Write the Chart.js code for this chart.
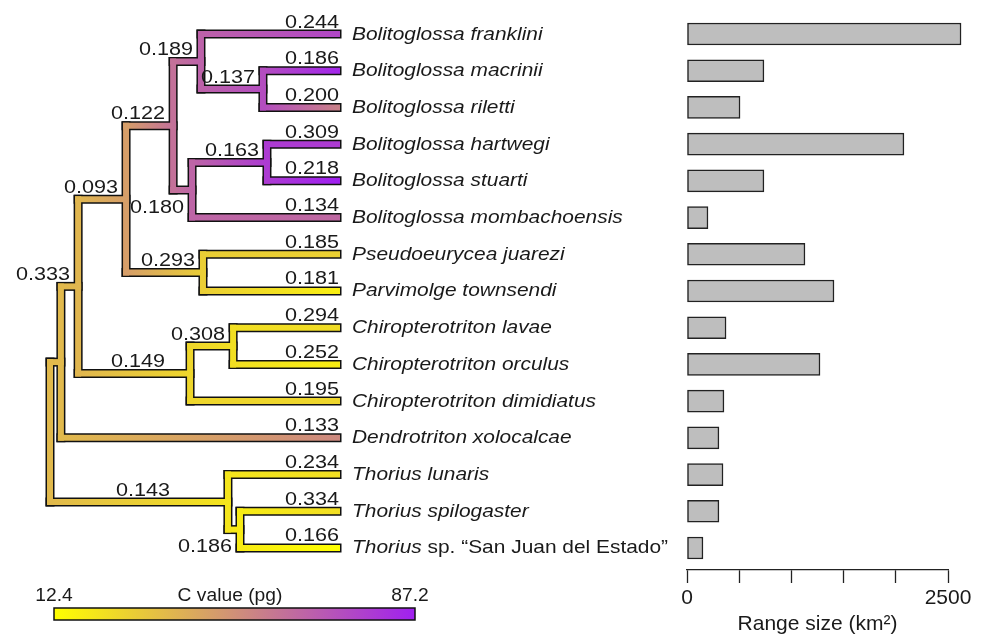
<!DOCTYPE html>
<html>
<head>
<meta charset="utf-8">
<script src="https://cdn.jsdelivr.net/npm/chart.js@4.4.1/dist/chart.umd.min.js"></script>
<style>
  html, body { margin: 0; padding: 0; background: #fff; }
  #wrap { position: relative; width: 986px; height: 637px; overflow: hidden; }
  #tree { position: absolute; left: 0; top: 0; }
  #bars { position: absolute; left: 600px; top: 0; }
</style>
</head>
<body>
<div id="wrap">
  <canvas id="tree" width="680" height="637"></canvas>
  <canvas id="bars" width="386" height="637"></canvas>
</div>
<script>
// tips, top to bottom ('|' splits italic genus part from roman suffix)
const species = [
  'Bolitoglossa franklini', 'Bolitoglossa macrinii', 'Bolitoglossa riletti',
  'Bolitoglossa hartwegi', 'Bolitoglossa stuarti', 'Bolitoglossa mombachoensis',
  'Pseudoeurycea juarezi', 'Parvimolge townsendi', 'Chiropterotriton lavae',
  'Chiropterotriton orculus', 'Chiropterotriton dimidiatus', 'Dendrotriton xolocalcae',
  'Thorius lunaris', 'Thorius spilogaster', 'Thorius| sp. “San Juan del Estado”'
];
const tipRates = ['0.244', '0.186', '0.200', '0.309', '0.218', '0.134', '0.185', '0.181',
  '0.294', '0.252', '0.195', '0.133', '0.234', '0.334', '0.166'];
const tipCValues = [74, 85, 55, 78, 87.2, 63, 28, 18, 24, 18, 26, 52, 23, 23, 12.4];
const rangeSizes = [2625, 737, 508, 2078, 737, 201, 1130, 1408, 374, 1274, 354, 306, 345, 306, 153];

// internal nodes
const nodeIds = ['R', 'I', 'F', 'D', 'C', 'A', 'A2', 'B', 'B2', 'E', 'G', 'H', 'J', 'K'];
const nodeChildren = [['I', 'J'], ['F', 11], ['D', 'G'], ['C', 'E'], ['A', 'B'], [0, 'A2'], [1, 2],
  ['B2', 5], [3, 4], [6, 7], ['H', 10], [8, 9], [12, 'K'], [13, 14]];
const nodeAges = [0, 0.038, 0.098, 0.265, 0.429, 0.526, 0.742, 0.495, 0.756, 0.533, 0.488, 0.638, 0.620, 0.662];
const nodeCValues = [36, 36, 37, 45, 60, 65, 72, 64, 78, 29, 26, 23, 21, 19];
const nodeRates = ['', '', '0.333', '0.093', '0.122', '0.189', '0.137', '0.180', '0.163',
  '0.293', '0.149', '0.308', '0.143', '0.186'];
const ratesBelow = ['B', 'K'];

const cRange = [12.4, 87.2];
const cLabel = 'C value (pg)';
const rangeTicks = [0, 2500];
const rangeTitle = 'Range size (km²)';

const TXT = '#1a1a1a';
const YELLOW = [255, 255, 0];
const PURPLE = [160, 32, 240];

function cColor(c) {
  const t = Math.max(0, Math.min(1, (c - cRange[0]) / (cRange[1] - cRange[0])));
  const rgb = YELLOW.map((v, i) => Math.round(v + (PURPLE[i] - v) * t));
  return 'rgb(' + rgb.join(',') + ')';
}

// place nodes: tips at age 1, internal y = middle of first/last child
const info = {};
species.forEach((s, i) => { info[i] = { x: 1, y: i, c: tipCValues[i], rate: tipRates[i], tip: true }; });
function place(id) {
  if (info[id]) return info[id];
  const k = nodeIds.indexOf(id);
  const kids = nodeChildren[k].map(place);
  info[id] = {
    x: nodeAges[k], y: (kids[0].y + kids[kids.length - 1].y) / 2,
    c: nodeCValues[k], rate: nodeRates[k], below: ratesBelow.includes(id)
  };
  return info[id];
}
place('R');

const segments = [];
nodeIds.forEach((id, k) => {
  const p = info[id];
  const kids = nodeChildren[k].map(c => info[c]);
  segments.push({ pts: [{ x: p.x, y: kids[0].y }, { x: p.x, y: kids[kids.length - 1].y }], c0: p.c, c1: p.c });
  kids.forEach(ch => {
    segments.push({ pts: [{ x: p.x, y: ch.y }, { x: ch.x, y: ch.y }], c0: p.c, c1: ch.c, node: ch });
  });
});

function branchColor(chart, s) {
  if (s.c0 === s.c1 || !chart.chartArea) return cColor(s.c1);
  const xs = chart.scales.x;
  const x0 = xs.getPixelForValue(s.pts[0].x), x1 = xs.getPixelForValue(s.pts[1].x);
  const g = chart.ctx.createLinearGradient(x0, 0, x1, 0);
  g.addColorStop(0, cColor(s.c0));
  g.addColorStop(1, cColor(s.c1));
  return g;
}

const lineBase = { pointRadius: 0, pointHoverRadius: 0, fill: false, tension: 0, clip: false,
  borderCapStyle: 'square', borderJoinStyle: 'miter' };
const outlineSets = segments.map(s => Object.assign({}, lineBase, {
  data: s.pts, borderColor: '#111', borderWidth: 9, order: 2
}));
const colorSets = segments.map(s => Object.assign({}, lineBase, {
  data: s.pts, borderWidth: 6, order: 1, borderColor: (ctx) => branchColor(ctx.chart, s)
}));

function stretchText(ctx, str, x, y, align, font, sx) {
  ctx.save();
  ctx.font = font;
  ctx.fillStyle = TXT;
  ctx.textBaseline = 'alphabetic';
  ctx.textAlign = 'left';
  const w = ctx.measureText(str).width * sx;
  const left = align === 'right' ? x - w : align === 'center' ? x - w / 2 : x;
  ctx.translate(left, y);
  ctx.scale(sx, 1);
  ctx.fillText(str, 0, 0);
  ctx.restore();
  return w;
}

const NUM_FONT = '18px "Liberation Sans", Arial, sans-serif';
const treeText = {
  id: 'treeText',
  afterDatasetsDraw(chart) {
    const ctx = chart.ctx, xs = chart.scales.x, ys = chart.scales.y;
    // branch values
    segments.filter(s => s.node).forEach(s => {
      const n = s.node;
      const px0 = xs.getPixelForValue(s.pts[0].x), px1 = xs.getPixelForValue(n.x);
      const py = ys.getPixelForValue(n.y);
      const base = n.below ? py + 22.5 : py - 6.5;
      if (n.tip) {
        stretchText(ctx, n.rate, px1 + 2, base, 'right', NUM_FONT, 1.2);
      } else {
        ctx.font = NUM_FONT;
        const w = ctx.measureText(n.rate).width * 1.2;
        const cx = Math.min((px0 + px1) / 2 + 4, px1 - 8 - w / 2);
        stretchText(ctx, n.rate, cx, base, 'center', NUM_FONT, 1.2);
      }
    });
    // species names
    species.forEach((name, i) => {
      const px = xs.getPixelForValue(1) + 15, py = ys.getPixelForValue(i) + 5.5;
      const parts = name.split('|');
      const w = stretchText(ctx, parts[0], px, py, 'left', 'italic 18.5px "Liberation Sans", Arial, sans-serif', 1.13);
      if (parts[1]) stretchText(ctx, parts[1], px + w, py, 'left', '18.5px "Liberation Sans", Arial, sans-serif', 1.13);
    });
    // colour bar
    const bx0 = 54, bx1 = 415, by0 = 608, by1 = 620;
    const g = ctx.createLinearGradient(bx0, 0, bx1, 0);
    for (let k = 0; k <= 10; k++) g.addColorStop(k / 10, cColor(cRange[0] + (cRange[1] - cRange[0]) * k / 10));
    ctx.save();
    ctx.fillStyle = g;
    ctx.fillRect(bx0, by0, bx1 - bx0, by1 - by0);
    ctx.strokeStyle = '#111';
    ctx.lineWidth = 1.5;
    ctx.strokeRect(bx0, by0, bx1 - bx0, by1 - by0);
    ctx.restore();
    const cbFont = '17.5px "Liberation Sans", Arial, sans-serif';
    stretchText(ctx, String(cRange[0]), bx0, 601, 'center', cbFont, 1.1);
    stretchText(ctx, cLabel, 230, 601, 'center', cbFont, 1.1);
    stretchText(ctx, String(cRange[1]), 410, 601, 'center', cbFont, 1.1);
  }
};

// pixel layout of the tree panel: age 0 -> 50px, age 1 -> 337px; tip 0 -> 34px, 36.71px per tip
const X_PER = 287, X_MIN = -50 / X_PER, X_MAX = X_MIN + 680 / X_PER;
const Y_PER = 36.71, Y_MIN = -34 / Y_PER, Y_MAX = Y_MIN + 637 / Y_PER;

new Chart(document.getElementById('tree'), {
  type: 'line',
  data: { datasets: [...colorSets, ...outlineSets] },
  options: {
    responsive: false,
    animation: false,
    events: [],
    layout: { padding: 0 },
    plugins: { legend: { display: false }, tooltip: { enabled: false } },
    scales: {
      x: { type: 'linear', display: false, min: X_MIN, max: X_MAX },
      y: { type: 'linear', display: false, reverse: true, min: Y_MIN, max: Y_MAX }
    }
  },
  plugins: [treeText]
});

// range size bars
new Chart(document.getElementById('bars'), {
  type: 'bar',
  data: {
    datasets: [{
      data: rangeSizes.map((v, i) => ({ x: v, y: i })),
      backgroundColor: '#bebebe',
      borderColor: '#222',
      borderWidth: 1.5,
      borderSkipped: false,
      barThickness: 22,
      clip: false
    }]
  },
  options: {
    indexAxis: 'y',
    responsive: false,
    animation: false,
    events: [],
    layout: { padding: { left: 87, right: 38, top: 10, bottom: 0 } },
    plugins: { legend: { display: false }, tooltip: { enabled: false } },
    scales: {
      y: {
        type: 'linear', display: false, reverse: true, offset: false,
        grid: { offset: false },
        min: -24 / Y_PER, max: 14 + 22 / Y_PER
      },
      x: {
        type: 'linear', min: rangeTicks[0], max: rangeTicks[1],
        afterFit: (scale) => { scale.height = 67; },
        ticks: {
          stepSize: 500,
          color: TXT,
          padding: 3,
          maxRotation: 0,
          font: { family: '"Liberation Sans", Arial, sans-serif', size: 21 },
          callback: (v) => rangeTicks.includes(v) ? String(v) : ''
        },
        grid: { drawOnChartArea: false, drawTicks: true, tickLength: 13, tickColor: '#222', tickWidth: 1.3 },
        border: { display: true, color: '#222', width: 1.3 },
        title: {
          display: true, text: rangeTitle, color: TXT, padding: 0,
          font: { family: '"Liberation Sans", Arial, sans-serif', size: 21 }
        }
      }
    }
  }
});
</script>
</body>
</html>
